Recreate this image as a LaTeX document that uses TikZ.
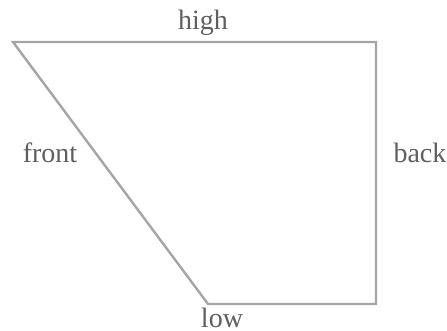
\documentclass[tikz,border=0pt]{standalone}
\usepackage{fontspec}
\setmainfont{Liberation Serif}
\definecolor{edgegray}{RGB}{165,165,165}
\definecolor{textgray}{RGB}{95,95,95}

\begin{document}
\begin{tikzpicture}[x=0.5pt,y=-0.5pt,
  side/.style={draw=edgegray, line width=1.2pt, line join=miter},
  lbl/.style={text=textgray, font=\fontsize{14}{16}\selectfont, inner sep=1pt}]
\useasboundingbox (0,0) rectangle (447,331);
\coordinate (tl) at (13,42);
\coordinate (tr) at (376,42);
\coordinate (br) at (376,304);
\coordinate (bl) at (208,304);
\draw[side] (tl) -- (tr) -- (br) -- (bl) -- cycle;
\node[lbl] (high) at (203,23) {high};
\node[lbl] (front) at (50,153) {front};
\node[lbl] (back) at (420,153) {back};
\node[lbl] (low) at (222,318) {low};
\end{tikzpicture}
\end{document}
